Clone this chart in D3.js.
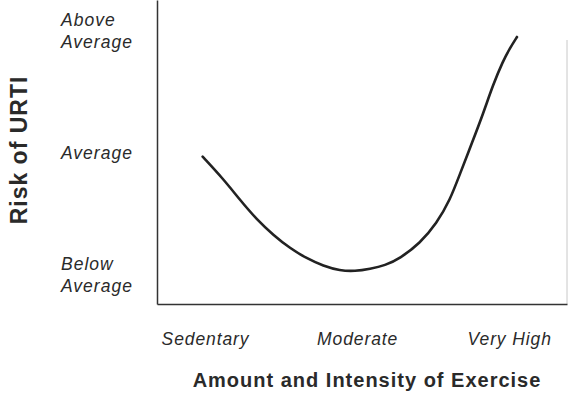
<!DOCTYPE html>
<html>
<head>
    <title></title>
    <script src="https://d3js.org/d3.v7.min.js"></script>
    <style>
        body { margin: 0; background: #fff; }
        text { font-family: "Liberation Sans", Arial, sans-serif; fill: #2a2a2a; }
    </style>
</head>
<body>
    <svg id="chart"></svg>
    <script>
        // exercise level (0 = sedentary, 1 = moderate, 2 = very high) and URTI risk (0 = below, 1 = average, 2 = above)
        var exercise = [-0.016, 0.120, 0.230, 0.340, 0.449, 0.559, 0.668, 0.778, 0.887, 0.986, 1.085, 1.183,
                        1.282, 1.413, 1.523, 1.611, 1.676, 1.755, 1.828, 1.893, 1.959, 2.005, 2.051];
        var risk = [0.967, 0.784, 0.612, 0.452, 0.325, 0.216, 0.134, 0.071, 0.033, 0.028, 0.048, 0.075,
                    0.134, 0.257, 0.421, 0.612, 0.825, 1.079, 1.316, 1.554, 1.750, 1.857, 1.947];

        var xTickValues = [0, 1, 2];
        var xTickLabels = ['Sedentary', 'Moderate', 'Very High'];
        var yTickValues = [0, 1, 2];
        var yTickLabels = [['Below', 'Average'], ['Average'], ['Above', 'Average']];

        var width = 577;
        var height = 405;

        var svg = d3.select('#chart')
            .attr('width', width)
            .attr('height', height);

        var xScale = d3.scaleLinear()
            .domain([-0.316, 2.38])
            .range([157, 567]);

        var yScale = d3.scaleLinear()
            .domain([-0.24, 2.25])
            .range([304, 0]);

        // faint right edge left over from the scan
        svg.append('line')
            .attr('x1', xScale(2.38)).attr('x2', xScale(2.38))
            .attr('y1', 40).attr('y2', yScale(-0.24))
            .attr('stroke', '#c8c8c8')
            .attr('stroke-width', 1);

        var xAxis = svg.append('g')
            .attr('transform', 'translate(0,' + yScale(-0.24) + ')')
            .call(d3.axisBottom(xScale)
                .tickValues(xTickValues)
                .tickSize(0)
                .tickSizeOuter(0)
                .tickFormat(function(d, i) { return xTickLabels[i]; }));

        xAxis.select('.domain')
            .attr('stroke', '#333')
            .attr('stroke-width', 1.5);

        xAxis.selectAll('text')
            .attr('y', 41)
            .attr('dy', 0)
            .style('font-size', '17.5px')
            .style('font-style', 'italic')
            .style('letter-spacing', '0.9px')
            .style('fill', '#2a2a2a');

        var yAxis = svg.append('g')
            .attr('transform', 'translate(' + xScale(-0.316) + ',0)')
            .call(d3.axisLeft(yScale)
                .tickValues(yTickValues)
                .tickSize(0)
                .tickSizeOuter(0)
                .tickFormat(''));

        yAxis.select('.domain')
            .attr('stroke', '#333')
            .attr('stroke-width', 1.5);

        yAxis.selectAll('.tick text').remove();

        yAxis.selectAll('.tick').each(function(d, i) {
            var lines = yTickLabels[i];
            var t = d3.select(this).append('text')
                .attr('x', -96)
                .attr('text-anchor', 'start')
                .style('font-size', '17.5px')
                .style('font-style', 'italic')
                .style('letter-spacing', '1px');
            lines.forEach(function(line, j) {
                t.append('tspan')
                    .attr('x', -96)
                    .attr('y', 6 + (j - (lines.length - 1) / 2) * 22)
                    .text(line);
            });
        });

        var line = d3.line()
            .x(function(d, i) { return xScale(exercise[i]); })
            .y(function(d, i) { return yScale(risk[i]); })
            .curve(d3.curveBasis);

        svg.append('path')
            .datum(risk)
            .attr('d', line)
            .attr('fill', 'none')
            .attr('stroke', '#222')
            .attr('stroke-width', 2.6)
            .attr('stroke-linecap', 'round');

        svg.append('text')
            .attr('x', 367)
            .attr('y', 387)
            .attr('text-anchor', 'middle')
            .style('font-size', '20px')
            .style('font-weight', 'bold')
            .style('letter-spacing', '1px')
            .text('Amount and Intensity of Exercise');

        svg.append('text')
            .attr('transform', 'rotate(-90)')
            .attr('x', -150)
            .attr('y', 27)
            .attr('text-anchor', 'middle')
            .style('font-size', '23px')
            .style('font-weight', 'bold')
            .style('letter-spacing', '1px')
            .text('Risk of URTI');
    </script>
</body>
</html>
